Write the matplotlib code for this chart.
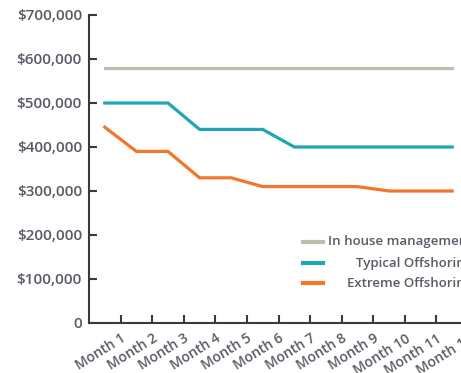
import matplotlib
matplotlib.use("Agg")
import numpy as np
import matplotlib.pyplot as plt
import matplotlib.transforms as mtransforms
from matplotlib.ticker import FuncFormatter, FixedLocator

plt.rcParams['font.family'] = ['Open Sans', 'DejaVu Sans']
plt.rcParams['font.weight'] = 'semibold'

months = ['Month 1', 'Month 2', 'Month 3', 'Month 4', 'Month 5', 'Month 6',
          'Month 7', 'Month 8', 'Month 9', 'Month 10', 'Month 11', 'Month 12']
in_house = [580000] * 12
typical = [500000, 500000, 500000, 440000, 440000, 440000,
           400000, 400000, 400000, 400000, 400000, 400000]
extreme = [445000, 390000, 390000, 330000, 330000, 310000,
           310000, 310000, 310000, 300000, 300000, 300000]
series_names = ['In house management', 'Typical Offshoring', 'Extreme Offshoring']
colors = ['#bdbdb0', '#1ea6b6', '#f2772b']
text_col = '#5a5a66'
axis_col = '#3a3a3a'

fig = plt.figure(figsize=(4.61, 3.73), dpi=100)
ax = fig.add_axes([89/461, 50/373, 379/461, 308/373])

x = np.arange(len(months))
for vals, c in zip([in_house, typical, extreme], colors):
    ax.plot(x, vals, color=c, lw=2.3, solid_joinstyle='miter')

ax.set_xlim(-0.5, 11.5)
ax.set_ylim(0, 700000)
ax.set_yticks(np.arange(0, 700001, 100000))
ax.yaxis.set_major_formatter(FuncFormatter(lambda v, p: '0' if v == 0 else '${:,.0f}'.format(v)))

# boundary ticks, labels at category centres
ax.xaxis.set_major_locator(FixedLocator(np.arange(0.5, 12, 1)))
ax.xaxis.set_minor_locator(FixedLocator(x))
ax.set_xticklabels([], minor=False)
ax.set_xticklabels(months, minor=True)
ax.tick_params(axis='x', which='major', direction='in', length=6, width=1.5, color=axis_col)
ax.tick_params(axis='x', which='minor', length=0, pad=6, labelsize=10, labelcolor=text_col)
ax.tick_params(axis='y', direction='in', length=6, width=1.5, color=axis_col,
               labelsize=11, labelcolor=text_col, pad=5)

offset = mtransforms.ScaledTranslation(16/100, 0, fig.dpi_scale_trans)
for lab in ax.get_xticklabels(minor=True):
    lab.set_rotation(32)
    lab.set_ha('right')
    lab.set_va('top')
    lab.set_rotation_mode('anchor')
    lab.set_transform(lab.get_transform() + offset)

for s in ['top', 'right']:
    ax.spines[s].set_visible(False)
for s in ['left', 'bottom']:
    ax.spines[s].set_color(axis_col)
    ax.spines[s].set_linewidth(1.5)

# legend: handles on the left, labels right-aligned
leg_y = [242, 263, 283]
for name, c, yy in zip(series_names, colors, leg_y):
    fy = 1 - yy/373
    fig.add_artist(plt.Line2D([303/461, 323/461], [fy, fy], color=c, lw=3,
                              transform=fig.transFigure))
    fig.text(472/461, fy, name, ha='right', va='center', fontsize=9.5, color=text_col)

fig.savefig('out.png', dpi=100)
